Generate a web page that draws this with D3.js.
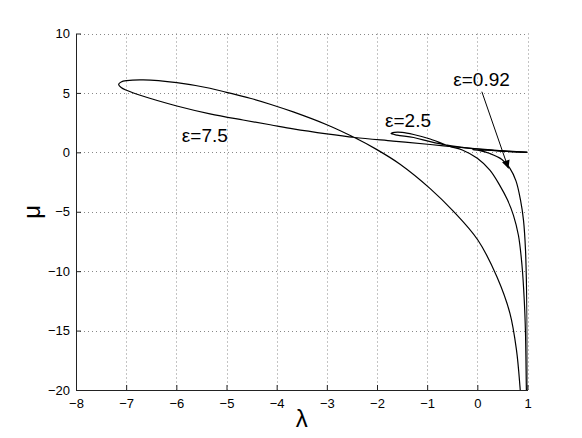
<!DOCTYPE html>
<html>
<head>
<meta charset="utf-8">
<script src="https://cdn.jsdelivr.net/npm/d3@7"></script>
<style>
  body { margin: 0; background: #fff; }
  text { font-family: "Liberation Sans", Arial, Helvetica, sans-serif; }
</style>
</head>
<body>
<div id="chart"></div>
<script>
// tick values
let xTicks = [-8, -7, -6, -5, -4, -3, -2, -1, 0, 1];
let yTicks = [-20, -15, -10, -5, 0, 5, 10];

// eps = 7.5 : steep branch -> big loop -> flat branch to (1,0)
let lam75 = [0.87, 0.85, 0.78, 0.65, 0.39, 0.01, -0.48, -0.94, -1.54, -2.01, -2.44, -3.0, -3.67, -4.13, -4.53,
             -5.0, -5.33, -5.99, -6.66, -6.99, -7.1, -7.15, -7.1, -6.98, -6.72, -5.99, -5.33, -4.67, -4.13, -3.67, -3.0,
             -2.44, -1.68, -0.94, -0.5, 0, 0.5, 1.0];
let mu75 = [-21, -19.72, -16.63, -13.55, -10.47, -7.38, -4.95, -3.05, -1.0, 0.25, 1.22, 2.32, 3.4, 4.05, 4.55,
            5.05, 5.39, 5.86, 6.09, 6.03, 5.92, 5.72, 5.45, 5.2, 4.8, 3.9, 3.24, 2.72, 2.32, 1.97, 1.55,
            1.25, 0.95, 0.66, 0.48, 0.3, 0.13, 0.0];

// eps = 2.5
let lam25 = [0.985, 0.978, 0.96, 0.935, 0.89, 0.82, 0.72, 0.6, 0.45, 0.25, 0, -0.3, -0.55, -0.94, -1.27, -1.5,
             -1.65, -1.72, -1.6, -1.27, -0.94, -0.6, -0.3, 0, 0.5, 1.0];
let mu25 = [-21, -20, -15.2, -12.4, -9.5, -7.0, -5.3, -4.0, -2.8, -1.5, -0.5, 0.2, 0.5, 1.12, 1.5, 1.68,
            1.68, 1.58, 1.45, 1.25, 0.9, 0.6, 0.42, 0.28, 0.12, 0.0];

// eps = 0.92
let lam092 = [1.0, 0.995, 0.985, 0.96, 0.92, 0.86, 0.77, 0.65, 0.49, 0.25, 0.05, -0.1, 0.2, 0.6, 1.0];
let mu092 = [-21, -16, -12.4, -8.2, -5.7, -4.0, -2.4, -1.35, -0.6, -0.1, 0.15, 0.23, 0.18, 0.07, 0.0];

let curves = [
    {lam: lam75, mu: mu75},
    {lam: lam25, mu: mu25},
    {lam: lam092, mu: mu092}
];

let labels = [
    {text: 'ε=7.5', lam: -5.89, mu: 0.89},
    {text: 'ε=2.5', lam: -1.84, mu: 2.15},
    {text: 'ε=0.92', lam: -0.48, mu: 5.6}
];

// arrow from label to the eps=0.92 curve
let arrowLam = [0.09, 0.62];
let arrowMu = [5.1, -1.35];

function makeGraph() {
    let w = 582, h = 438;
    let left = 76, right = 527.5, top = 33.5, bottom = 390;

    let svg = d3.select('#chart')
        .append('svg')
        .attr('width', w)
        .attr('height', h);

    let xScale = d3.scaleLinear().domain([-8, 1]).range([left, right]);
    let yScale = d3.scaleLinear().domain([-20, 10]).range([bottom, top]);

    svg.append('defs').append('clipPath')
        .attr('id', 'plotclip')
        .append('rect')
        .attr('x', left).attr('y', top)
        .attr('width', right - left).attr('height', bottom - top);

    let marker = svg.select('defs').append('marker')
        .attr('id', 'arrowhead')
        .attr('viewBox', '0 0 10 10')
        .attr('refX', 10).attr('refY', 5)
        .attr('markerWidth', 12).attr('markerHeight', 8)
        .attr('markerUnits', 'userSpaceOnUse')
        .attr('orient', 'auto');
    marker.append('path').attr('d', 'M0,0 L10,5 L0,10 Z').attr('fill', '#000');

    // grid
    let grid = svg.append('g')
        .attr('stroke', '#888')
        .attr('stroke-width', 1)
        .attr('stroke-dasharray', '1,3');
    grid.selectAll('.vg')
        .data(xTicks.slice(1))
        .enter().append('line')
        .attr('x1', d => Math.round(xScale(d)) + 0.5)
        .attr('x2', d => Math.round(xScale(d)) + 0.5)
        .attr('y1', top).attr('y2', bottom);
    grid.selectAll('.hg')
        .data(yTicks.slice(1))
        .enter().append('line')
        .attr('y1', d => Math.round(yScale(d)) + 0.5)
        .attr('y2', d => Math.round(yScale(d)) + 0.5)
        .attr('x1', left).attr('x2', right);

    // axes, ticks inward
    let xAxis = d3.axisBottom(xScale)
        .tickValues(xTicks)
        .tickSizeInner(-5)
        .tickSizeOuter(0)
        .tickPadding(9)
        .tickFormat(d3.format('d'));
    let xAxisGroup = svg.append('g')
        .attr('transform', `translate(0, ${bottom})`)
        .call(xAxis);

    let yAxis = d3.axisLeft(yScale)
        .tickValues(yTicks)
        .tickSizeInner(-5)
        .tickSizeOuter(0)
        .tickPadding(6)
        .tickFormat(d3.format('d'));
    let yAxisGroup = svg.append('g')
        .attr('transform', `translate(${left}, 0)`)
        .call(yAxis);

    [xAxisGroup, yAxisGroup].forEach(g => {
        g.selectAll('text')
            .attr('font-size', 13)
            .attr('font-family', '"Liberation Sans", Arial, sans-serif')
            .attr('fill', '#000');
        g.selectAll('path, line').attr('stroke', '#222');
    });

    // curves
    let line = d3.line()
        .x(d => xScale(d[0]))
        .y(d => yScale(d[1]))
        .curve(d3.curveCatmullRom.alpha(0.5));

    svg.append('g')
        .attr('clip-path', 'url(#plotclip)')
        .selectAll('path')
        .data(curves)
        .enter().append('path')
        .attr('d', c => line(c.lam.map((v, i) => [v, c.mu[i]])))
        .attr('fill', 'none')
        .attr('stroke', '#000')
        .attr('stroke-width', 1.2);

    // arrow
    svg.append('line')
        .attr('x1', xScale(arrowLam[0])).attr('y1', yScale(arrowMu[0]))
        .attr('x2', xScale(arrowLam[1])).attr('y2', yScale(arrowMu[1]))
        .attr('stroke', '#000')
        .attr('stroke-width', 1)
        .attr('marker-end', 'url(#arrowhead)');

    // curve labels
    svg.selectAll('.lbl')
        .data(labels)
        .enter().append('text')
        .attr('x', d => xScale(d.lam))
        .attr('y', d => yScale(d.mu))
        .attr('font-size', 19)
        .text(d => d.text);

    // axis labels
    svg.append('text')
        .attr('x', (left + right) / 2)
        .attr('y', 427)
        .attr('text-anchor', 'middle')
        .attr('font-size', 24)
        .text('λ');

    svg.append('text')
        .attr('transform', `translate(40, ${(top + bottom) / 2}) rotate(-90)`)
        .attr('text-anchor', 'middle')
        .attr('font-size', 24)
        .text('μ');
}

window.onload = () => {
    makeGraph();
}
</script>
</body>
</html>
